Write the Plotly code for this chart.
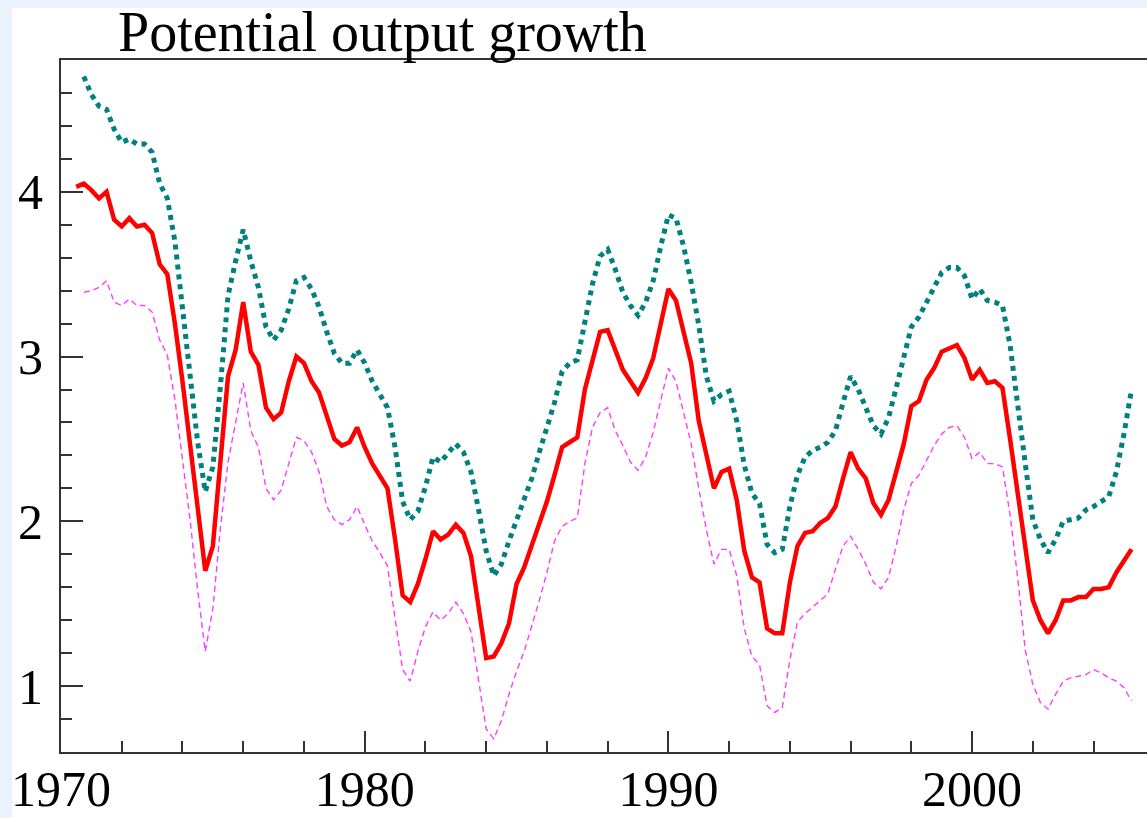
import plotly.graph_objects as go

# Quarterly series, first observation 1970.5, step 0.25 year
start_year = 1970.5
step = 0.25

red = [4.03, 4.05, 4.01, 3.96, 4.00, 3.83, 3.79, 3.84, 3.79, 3.80,
       3.75, 3.56, 3.50, 3.20, 2.85, 2.45, 2.07, 1.70, 1.85, 2.36,
       2.88, 3.04, 3.33, 3.03, 2.95, 2.69, 2.62, 2.66, 2.85, 3.00,
       2.96, 2.85, 2.78, 2.64, 2.50, 2.46, 2.48, 2.57, 2.45, 2.35,
       2.27, 2.20, 1.89, 1.55, 1.51, 1.62, 1.77, 1.94, 1.89, 1.92,
       1.98, 1.93, 1.79, 1.47, 1.17, 1.18, 1.26, 1.38, 1.62, 1.72,
       1.85, 1.97, 2.12, 2.28, 2.45, 2.48, 2.51, 2.80, 2.97, 3.15,
       3.16, 3.03, 2.92, 2.85, 2.78, 2.87, 2.99, 3.20, 3.41, 3.34,
       3.15, 2.96, 2.61, 2.40, 2.20, 2.30, 2.32, 2.13, 1.82, 1.66,
       1.63, 1.35, 1.32, 1.32, 1.63, 1.85, 1.93, 1.94, 1.99, 2.02,
       2.09, 2.26, 2.42, 2.32, 2.26, 2.11, 2.04, 2.13, 2.30, 2.47,
       2.70, 2.73, 2.86, 2.93, 3.03, 3.05, 3.07, 2.99, 2.86, 2.92,
       2.84, 2.85, 2.81, 2.50, 2.16, 1.85, 1.52, 1.40, 1.32, 1.40,
       1.52, 1.52, 1.54, 1.54, 1.59, 1.59, 1.60, 1.69, 1.76, 1.83]

upper = [None, 4.70, 4.59, 4.52, 4.50, 4.38, 4.30, 4.32, 4.29, 4.29,
         4.24, 4.05, 3.96, 3.70, 3.30, 2.87, 2.48, 2.18, 2.33, 2.82,
         3.37, 3.58, 3.77, 3.58, 3.42, 3.18, 3.10, 3.16, 3.29, 3.46,
         3.48, 3.41, 3.30, 3.15, 3.02, 2.96, 2.96, 3.04, 2.96, 2.85,
         2.77, 2.69, 2.45, 2.12, 2.01, 2.06, 2.21, 2.39, 2.36, 2.41,
         2.47, 2.42, 2.30, 2.07, 1.82, 1.67, 1.74, 1.88, 2.01, 2.13,
         2.26, 2.42, 2.57, 2.72, 2.91, 2.96, 2.98, 3.20, 3.44, 3.61,
         3.65, 3.53, 3.39, 3.31, 3.25, 3.33, 3.46, 3.67, 3.86, 3.84,
         3.67, 3.45, 3.19, 2.88, 2.73, 2.77, 2.79, 2.61, 2.34, 2.17,
         2.11, 1.86, 1.81, 1.83, 2.09, 2.28, 2.39, 2.43, 2.45, 2.48,
         2.55, 2.72, 2.88, 2.80, 2.69, 2.58, 2.53, 2.63, 2.81, 2.99,
         3.18, 3.24, 3.33, 3.42, 3.51, 3.54, 3.54, 3.49, 3.35, 3.41,
         3.34, 3.33, 3.31, 3.07, 2.69, 2.35, 2.01, 1.89, 1.81, 1.89,
         2.00, 2.01, 2.02, 2.07, 2.09, 2.12, 2.15, 2.30, 2.53, 2.80]

lower = [None, 3.39, 3.40, 3.42, 3.46, 3.33, 3.31, 3.35, 3.31, 3.31,
         3.27, 3.10, 3.01, 2.74, 2.36, 2.01, 1.58, 1.21, 1.47, 1.96,
         2.36, 2.61, 2.84, 2.55, 2.45, 2.20, 2.13, 2.19, 2.35, 2.51,
         2.49, 2.42, 2.30, 2.09, 2.01, 1.98, 2.01, 2.09, 1.98, 1.88,
         1.81, 1.73, 1.41, 1.10, 1.03, 1.21, 1.36, 1.45, 1.40, 1.44,
         1.51, 1.44, 1.33, 1.02, 0.74, 0.68, 0.79, 0.95, 1.09, 1.21,
         1.36, 1.52, 1.69, 1.88, 1.97, 2.00, 2.02, 2.35, 2.57, 2.66,
         2.69, 2.55, 2.46, 2.36, 2.31, 2.39, 2.54, 2.73, 2.93, 2.85,
         2.66, 2.47, 2.20, 1.95, 1.74, 1.83, 1.83, 1.67, 1.35, 1.18,
         1.13, 0.88, 0.84, 0.87, 1.16, 1.39, 1.44, 1.48, 1.52, 1.56,
         1.71, 1.85, 1.91, 1.83, 1.74, 1.63, 1.59, 1.66, 1.85, 2.07,
         2.23, 2.28, 2.37, 2.46, 2.53, 2.57, 2.58, 2.51, 2.38, 2.42,
         2.35, 2.35, 2.33, 2.04, 1.66, 1.22, 1.01, 0.90, 0.86, 0.95,
         1.03, 1.05, 1.06, 1.07, 1.10, 1.08, 1.05, 1.03, 0.99, 0.91]

x_tick_vals = [1970, 1980, 1990, 2000]
x_tick_text = ["1970", "1980", "1990", "2000"]
y_tick_vals = [1, 2, 3, 4]
y_tick_text = ["1", "2", "3", "4"]
title_text = "Potential output growth"

years = [start_year + step * i for i in range(len(red))]

FONT = "Liberation Serif, Times New Roman, serif"
W, H = 1147, 818
ML, MR, MT, MB = 61, 0, 60, 66
PW, PH = W - ML - MR, H - MT - MB

fig = go.Figure()
fig.add_trace(go.Scatter(x=years, y=lower, mode="lines",
                         line=dict(color="#ff3cff", width=1.4, dash="6px,4px")))
fig.add_trace(go.Scatter(x=years, y=upper, mode="lines",
                         line=dict(color="#008080", width=5, dash="5px,5px")))
fig.add_trace(go.Scatter(x=years, y=red, mode="lines",
                         line=dict(color="#ff0000", width=4.5)))


def px_x(p):
    return (p - ML) / PW


def px_y(p):
    return (H - MB - p) / PH


# outer light-blue strips (page background visible at left and top)
fig.add_shape(type="rect", xref="paper", yref="paper", layer="below",
              x0=px_x(0), x1=px_x(12), y0=px_y(H), y1=px_y(0),
              fillcolor="#eaf3fd", line=dict(width=0))
fig.add_shape(type="rect", xref="paper", yref="paper", layer="below",
              x0=px_x(0), x1=px_x(W), y0=px_y(8), y1=px_y(0),
              fillcolor="#eaf3fd", line=dict(width=0))

fig.add_annotation(text=title_text, xref="paper", yref="paper",
                   x=px_x(116), y=px_y(32), xanchor="left", yanchor="middle",
                   showarrow=False, font=dict(family=FONT, size=56, color="black"))

fig.update_layout(
    width=W, height=H, template="none",
    margin=dict(l=ML, r=MR, t=MT, b=MB, pad=0),
    paper_bgcolor="white", plot_bgcolor="white",
    showlegend=False,
    font=dict(family=FONT, color="black"),
    xaxis=dict(range=[1970, 1970 + PW / 30.37], tickvals=x_tick_vals, ticktext=x_tick_text,
               ticks="inside", ticklen=21, tickwidth=2, tickcolor="#333",
               minor=dict(dtick=2, tick0=1970, ticks="inside", ticklen=11, tickwidth=2, tickcolor="#333"),
               showline=True, linecolor="#333", linewidth=2, mirror=True,
               showgrid=False, zeroline=False, automargin=False,
               tickfont=dict(family=FONT, size=50, color="black"), ticklabelstandoff=-8),
    yaxis=dict(range=[0.6, 4.8], tickvals=y_tick_vals, ticktext=y_tick_text,
               ticks="inside", ticklen=22, tickwidth=2, tickcolor="#333",
               minor=dict(dtick=0.2, tick0=0, ticks="inside", ticklen=11, tickwidth=2, tickcolor="#333"),
               showline=True, linecolor="#333", linewidth=2, mirror=False,
               showgrid=False, zeroline=False, automargin=False,
               tickfont=dict(family=FONT, size=50, color="black"), ticklabelstandoff=6),
)

fig.write_html("out.html", config={"displayModeBar": False},
               post_script="document.body.style.margin='0';document.body.style.overflow='hidden';")
